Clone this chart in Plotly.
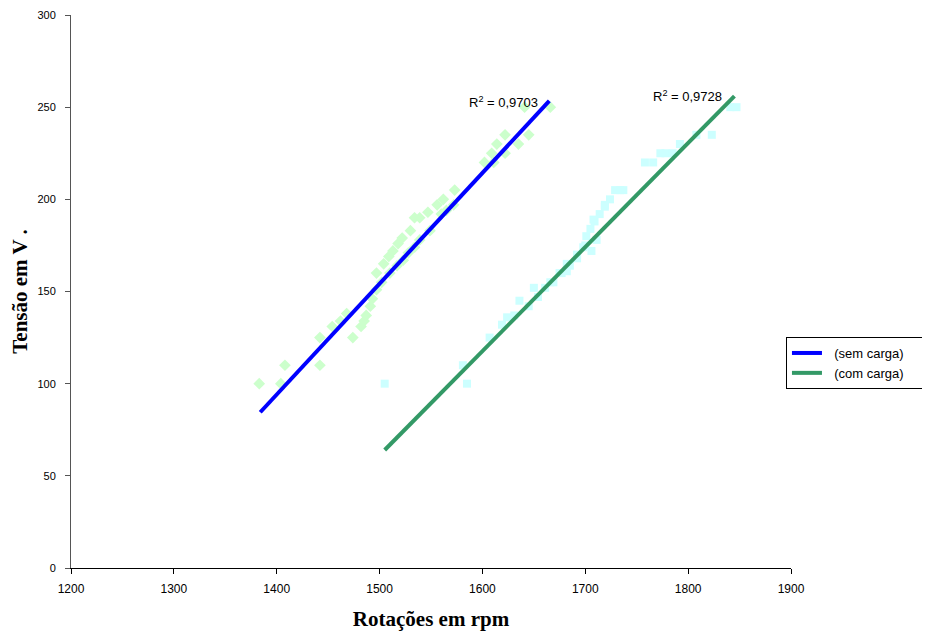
import plotly.graph_objects as go

# ---- data ----
sem_rpm = [1383, 1404, 1408, 1442, 1442, 1474, 1454, 1462, 1468, 1482, 1485, 1487, 1491, 1493,
           1497, 1497, 1502, 1504, 1509, 1510, 1513, 1517, 1518, 1522, 1523, 1528, 1530, 1534,
           1534, 1539, 1539, 1547, 1549, 1556, 1560, 1562, 1565, 1572, 1573, 1602, 1609, 1611,
           1614, 1622, 1622, 1635, 1645, 1641, 1666]
sem_v = [100, 100, 110, 110, 125, 125, 131, 134, 138, 131, 134, 137, 142, 146,
         151, 160, 155, 165, 169, 160, 172, 164, 176, 179, 167, 171, 183, 190,
         174, 190, 178, 193, 183, 197, 192, 200, 194, 197, 205, 220, 225, 220,
         230, 235, 225, 230, 235, 250, 250]

com_rpm = [1505, 1585, 1581, 1607, 1619, 1624, 1631, 1636, 1645, 1650, 1654, 1661, 1666, 1669,
           1675, 1677, 1682, 1682, 1685, 1692, 1692, 1698, 1700, 1701, 1705, 1706, 1708, 1709,
           1711, 1714, 1719, 1719, 1724, 1729, 1734, 1737, 1758, 1766, 1773, 1778, 1785, 1792,
           1808, 1823, 1841, 1847]
com_v = [100, 100, 110, 125, 132, 136, 137, 145, 142, 152, 147, 152, 155, 155,
         160, 160, 161, 165, 164, 168, 170, 174, 175, 180, 184, 172, 189, 188,
         178, 192, 197, 196, 200, 205, 205, 205, 220, 220, 225, 225, 225, 230,
         235, 235, 250, 250]

# linear trendlines (end points)
sem_trend_rpm = [1384, 1665]
sem_trend_v = [84.5, 253.4]
com_trend_rpm = [1505, 1845]
com_trend_v = [64.0, 256.0]

sem_r2 = "R<sup>2</sup> = 0,9703"
com_r2 = "R<sup>2</sup> = 0,9728"

sem_name = "\u00a0\u00a0(sem carga)\u00a0\u00a0\u00a0\u00a0\u00a0"
com_name = "\u00a0\u00a0(com carga)\u00a0\u00a0\u00a0\u00a0\u00a0"

x_ticks = [1200, 1300, 1400, 1500, 1600, 1700, 1800, 1900]
y_ticks = [0, 50, 100, 150, 200, 250, 300]

ARIAL = "Arial, Liberation Sans"
TIMES = "Times New Roman, Liberation Serif"

fig = go.Figure()
fig.add_trace(go.Scatter(x=sem_rpm, y=sem_v, mode="markers", showlegend=False,
                         marker=dict(symbol="diamond", size=9, color="#CCFFCC", line=dict(width=0))))
fig.add_trace(go.Scatter(x=com_rpm, y=com_v, mode="markers", showlegend=False,
                         marker=dict(symbol="square", size=8, color="#CCFFFF", line=dict(width=0))))
fig.add_trace(go.Scatter(x=sem_trend_rpm, y=sem_trend_v, mode="lines", name=sem_name,
                         line=dict(color="#0000FF", width=4)))
fig.add_trace(go.Scatter(x=com_trend_rpm, y=com_trend_v, mode="lines", name=com_name,
                         line=dict(color="#339966", width=4)))

fig.add_annotation(x=1620, y=252.8, text=sem_r2, showarrow=False, xanchor="center", yanchor="middle",
                   font=dict(family=ARIAL, size=13, color="black"))
fig.add_annotation(x=1799, y=256, text=com_r2, showarrow=False, xanchor="center", yanchor="middle",
                   font=dict(family=ARIAL, size=13, color="black"))

# page body has an 8px margin: figure is shrunk/shifted so the plot area lands where the reference has it
fig.update_layout(
    width=922, height=623,
    margin=dict(l=63, r=139, t=7, b=63, autoexpand=False),
    paper_bgcolor="white", plot_bgcolor="white",
    font=dict(family=ARIAL, size=11, color="black"),
    legend=dict(x=0.993, y=0.4177, xanchor="left", yanchor="top",
                bordercolor="black", borderwidth=1, bgcolor="white",
                font=dict(family=ARIAL, size=13, color="black"),
                tracegroupgap=0, itemwidth=30),
    xaxis=dict(range=[1200, 1900], tickvals=x_ticks, ticks="outside", ticklen=5,
               showgrid=False, zeroline=False, showline=True, linecolor="black", linewidth=1,
               tickcolor="black", ticklabelstandoff=5, automargin=False,
               tickfont=dict(family=ARIAL, size=12, color="black"),
               title=dict(text="\u00a0\u00a0<b>Rotações em rpm</b>", standoff=22,
                          font=dict(family=TIMES, size=21, color="black"))),
    yaxis=dict(range=[0, 300], tickvals=y_ticks, ticks="outside", ticklen=5,
               showgrid=False, zeroline=False, showline=True, linecolor="#555555", linewidth=1,
               tickcolor="#555555", ticklabelstandoff=7, automargin=False,
               tickfont=dict(family=ARIAL, size=11, color="black"),
               title=dict(text="<b>Tensão em V .</b>", standoff=13,
                          font=dict(family=TIMES, size=21, color="black"))),
)

fig.write_html("out.html")
